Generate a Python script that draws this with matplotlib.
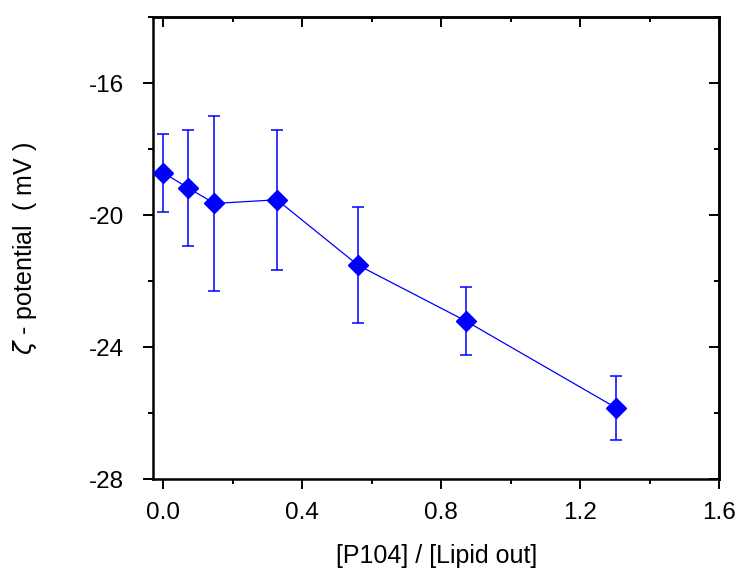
import numpy as np
import matplotlib
matplotlib.use('Agg')
import matplotlib.pyplot as plt
from matplotlib.ticker import MultipleLocator

ratio = [0.0, 0.071, 0.147, 0.327, 0.560, 0.870, 1.304]
zeta = [-18.71, -19.17, -19.64, -19.53, -21.51, -23.20, -25.84]
zeta_err = [1.18, 1.76, 2.64, 2.13, 1.75, 1.03, 0.98]

plt.rcParams['font.family'] = ['Liberation Sans', 'DejaVu Sans']
plt.rcParams['axes.unicode_minus'] = False

fig = plt.figure(figsize=(7.39, 5.69), dpi=100)
ax = fig.add_axes([0.2075, 0.1576, 0.9733 - 0.2075, 0.9696 - 0.1576])

ax.errorbar(ratio, zeta, yerr=zeta_err, color='#0000ff', lw=0.9,
            elinewidth=1.1, capsize=4, capthick=1.1,
            marker='D', markersize=10.5, markeredgecolor='#0000ff',
            markerfacecolor='#0000ff', zorder=3)

ax.set_xlim(-0.029, 1.6)
ax.set_ylim(-28, -14)

ax.xaxis.set_minor_locator(MultipleLocator(0.2))
ax.yaxis.set_minor_locator(MultipleLocator(2))
ax.set_xticks([0.0, 0.4, 0.8, 1.2, 1.6])
ax.set_xticklabels(['0.0', '0.4', '0.8', '1.2', '1.6'])
ax.set_yticks([-28, -24, -20, -16])

for s in ax.spines.values():
    s.set_linewidth(1.8)

ax.tick_params(which='major', direction='out', length=7, width=1.4,
               labelsize=17.5, pad=9)
ax.tick_params(which='minor', direction='out', length=3.5, width=1.4)
ax.tick_params(axis='y', which='major', pad=14)

# inward ticks on the top and right frame
top = ax.secondary_xaxis('top')
top.set_xticks([0.0, 0.4, 0.8, 1.2, 1.6])
top.xaxis.set_minor_locator(MultipleLocator(0.2))
top.tick_params(which='major', direction='in', length=7, width=1.4, labeltop=False)
top.tick_params(which='minor', direction='in', length=3.5, width=1.4)
top.spines['top'].set_linewidth(1.8)

right = ax.secondary_yaxis('right')
right.set_yticks([-28, -24, -20, -16])
right.yaxis.set_minor_locator(MultipleLocator(2))
right.tick_params(which='major', direction='in', length=7, width=1.4, labelright=False)
right.tick_params(which='minor', direction='in', length=3.5, width=1.4)
right.spines['right'].set_linewidth(1.8)

ax.set_xlabel('[P104] / [Lipid out]', fontsize=18, labelpad=15)
ax.set_ylabel(r'$\zeta$ - potential  ( mV )', fontsize=18, labelpad=36)

fig.savefig('out.png', dpi=100)
